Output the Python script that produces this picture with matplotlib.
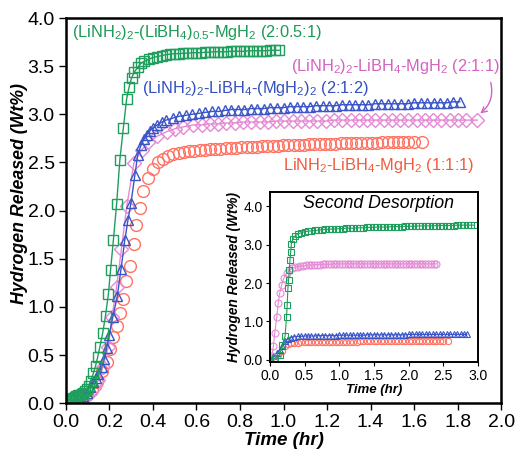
import matplotlib
matplotlib.use("Agg")
import matplotlib.pyplot as plt

plt.rcParams["font.family"] = ["Liberation Sans", "DejaVu Sans"]
plt.rcParams["mathtext.fontset"] = "custom"
plt.rcParams["mathtext.rm"] = "Liberation Sans"
plt.rcParams["mathtext.it"] = "Liberation Sans:italic"
plt.rcParams["mathtext.bf"] = "Liberation Sans:bold"

# ---- first desorption (main panel) ----
t_201 = [0.000, 0.008, 0.016, 0.024, 0.032, 0.040, 0.048, 0.056, 0.064, 0.072,
         0.080, 0.088, 0.096, 0.104, 0.113, 0.126, 0.136, 0.146, 0.156, 0.169,
         0.182, 0.195, 0.205, 0.218, 0.233, 0.248, 0.264, 0.279, 0.290, 0.302,
         0.315, 0.330, 0.345, 0.360, 0.380, 0.400, 0.420, 0.440, 0.460, 0.480,
         0.500, 0.520, 0.540, 0.560, 0.580, 0.600, 0.620, 0.640, 0.660, 0.680,
         0.700, 0.720, 0.740, 0.760, 0.780, 0.800, 0.820, 0.840, 0.860, 0.880,
         0.900, 0.920, 0.940, 0.960, 0.980]
h_201 = [0.00, 0.02, 0.03, 0.04, 0.05, 0.06, 0.07, 0.08, 0.09, 0.10,
         0.11, 0.13, 0.15, 0.18, 0.23, 0.31, 0.385, 0.48, 0.585, 0.73,
         0.91, 1.13, 1.38, 1.69, 2.07, 2.53, 2.86, 3.16, 3.28, 3.38,
         3.44, 3.49, 3.53, 3.55, 3.57, 3.59, 3.60, 3.61, 3.62, 3.625,
         3.63, 3.63, 3.635, 3.635, 3.64, 3.64, 3.64, 3.645, 3.645, 3.65,
         3.65, 3.65, 3.65, 3.655, 3.655, 3.655, 3.655, 3.66, 3.66, 3.66,
         3.66, 3.66, 3.665, 3.665, 3.665]

t_212 = [0.000, 0.020, 0.040, 0.060, 0.080, 0.095, 0.110, 0.125, 0.138, 0.149,
         0.164, 0.176, 0.187, 0.199, 0.215, 0.236, 0.253, 0.271, 0.285, 0.299,
         0.317, 0.330, 0.345, 0.358, 0.372, 0.386, 0.400, 0.420, 0.440, 0.460,
         0.490, 0.520, 0.550, 0.580, 0.610, 0.640, 0.670, 0.700, 0.730, 0.760,
         0.790, 0.820, 0.850, 0.880, 0.910, 0.940, 0.970, 1.000, 1.030, 1.060,
         1.090, 1.120, 1.150, 1.180, 1.210, 1.240, 1.270, 1.300, 1.330, 1.360,
         1.390, 1.420, 1.450, 1.480, 1.510, 1.540, 1.570, 1.600, 1.630, 1.660,
         1.690, 1.720, 1.750, 1.780, 1.810]
h_212 = [0.00, 0.01, 0.02, 0.04, 0.07, 0.11, 0.17, 0.22, 0.26, 0.30,
         0.38, 0.46, 0.57, 0.71, 0.89, 1.11, 1.39, 1.70, 1.90, 2.08,
         2.37, 2.58, 2.68, 2.74, 2.79, 2.83, 2.86, 2.89, 2.92, 2.94,
         2.96, 2.98, 2.99, 3.00, 3.01, 3.02, 3.03, 3.03, 3.04, 3.05,
         3.05, 3.05, 3.06, 3.06, 3.06, 3.07, 3.07, 3.07, 3.08, 3.08,
         3.08, 3.08, 3.09, 3.09, 3.09, 3.09, 3.10, 3.10, 3.10, 3.10,
         3.10, 3.11, 3.11, 3.11, 3.11, 3.11, 3.11, 3.12, 3.12, 3.12,
         3.12, 3.12, 3.12, 3.13, 3.13]

t_211 = [0.000, 0.026, 0.050, 0.072, 0.095, 0.110, 0.130, 0.149, 0.170, 0.195,
         0.212, 0.233, 0.255, 0.280, 0.312, 0.348, 0.378, 0.417, 0.463, 0.501,
         0.540, 0.585, 0.624, 0.662, 0.700, 0.738, 0.776, 0.814, 0.852, 0.890,
         0.928, 0.966, 1.004, 1.042, 1.080, 1.118, 1.156, 1.194, 1.232, 1.270,
         1.308, 1.346, 1.384, 1.422, 1.460, 1.498, 1.536, 1.574, 1.612, 1.650,
         1.688, 1.726, 1.764, 1.802, 1.840, 1.890]
h_211 = [0.00, 0.01, 0.02, 0.04, 0.07, 0.11, 0.16, 0.24, 0.38, 0.585,
         0.90, 1.21, 1.60, 2.05, 2.49, 2.63, 2.71, 2.77, 2.82, 2.85,
         2.87, 2.89, 2.89, 2.90, 2.90, 2.91, 2.91, 2.92, 2.92, 2.92,
         2.92, 2.93, 2.93, 2.93, 2.93, 2.93, 2.93, 2.93, 2.94, 2.94,
         2.94, 2.94, 2.94, 2.94, 2.94, 2.94, 2.94, 2.94, 2.94, 2.94,
         2.94, 2.94, 2.94, 2.94, 2.94, 2.94]

t_111 = [0.000, 0.031, 0.050, 0.072, 0.095, 0.118, 0.141, 0.164, 0.187, 0.202,
         0.218, 0.233, 0.248, 0.262, 0.275, 0.295, 0.311, 0.323, 0.340, 0.356,
         0.378, 0.401, 0.424, 0.447, 0.470, 0.494, 0.518, 0.542, 0.566, 0.590,
         0.614, 0.638, 0.662, 0.686, 0.710, 0.734, 0.758, 0.782, 0.806, 0.830,
         0.854, 0.878, 0.902, 0.926, 0.950, 0.974, 0.998, 1.022, 1.046, 1.070,
         1.094, 1.118, 1.142, 1.166, 1.190, 1.214, 1.238, 1.262, 1.286, 1.310,
         1.334, 1.358, 1.382, 1.406, 1.430, 1.454, 1.478, 1.502, 1.526, 1.550,
         1.574, 1.598, 1.635]
h_111 = [0.00, 0.03, 0.04, 0.05, 0.09, 0.135, 0.22, 0.33, 0.43, 0.56,
         0.69, 0.80, 0.94, 1.08, 1.27, 1.43, 1.65, 1.85, 2.03, 2.20,
         2.34, 2.43, 2.50, 2.54, 2.57, 2.59, 2.60, 2.61, 2.62, 2.62,
         2.63, 2.63, 2.64, 2.64, 2.64, 2.65, 2.65, 2.65, 2.66, 2.66,
         2.66, 2.66, 2.67, 2.67, 2.67, 2.67, 2.68, 2.68, 2.68, 2.68,
         2.68, 2.69, 2.69, 2.69, 2.69, 2.69, 2.69, 2.70, 2.70, 2.70,
         2.70, 2.70, 2.70, 2.70, 2.70, 2.71, 2.71, 2.71, 2.71, 2.71,
         2.71, 2.71, 2.71]

# ---- second desorption (inset) ----
t2_201 = [0.00, 0.07, 0.14, 0.18, 0.22, 0.24, 0.25, 0.26, 0.27, 0.28,
          0.29, 0.30, 0.31, 0.33, 0.36, 0.40, 0.45, 0.50, 0.55, 0.60,
          0.65, 0.70, 0.75, 0.80, 0.85, 0.90, 0.95, 1.00, 1.05, 1.10,
          1.15, 1.20, 1.25, 1.30, 1.35, 1.40, 1.45, 1.50, 1.55, 1.60,
          1.65, 1.70, 1.75, 1.80, 1.85, 1.90, 1.95, 2.00, 2.05, 2.10,
          2.15, 2.20, 2.25, 2.30, 2.35, 2.40, 2.45, 2.50, 2.55, 2.60,
          2.65, 2.70, 2.75, 2.80, 2.85, 2.90, 2.95]
h2_201 = [0.00, 0.04, 0.13, 0.39, 0.62, 1.12, 1.43, 1.86, 2.08, 2.34,
          2.60, 2.81, 3.02, 3.14, 3.22, 3.28, 3.31, 3.34, 3.35, 3.36,
          3.37, 3.38, 3.39, 3.40, 3.40, 3.41, 3.41, 3.42, 3.42, 3.43,
          3.43, 3.43, 3.44, 3.44, 3.44, 3.45, 3.45, 3.45, 3.46, 3.46,
          3.46, 3.46, 3.47, 3.47, 3.47, 3.47, 3.48, 3.48, 3.48, 3.48,
          3.49, 3.49, 3.49, 3.49, 3.49, 3.50, 3.50, 3.50, 3.50, 3.50,
          3.50, 3.51, 3.51, 3.51, 3.51, 3.51, 3.51]

t2_211 = [0.000, 0.025, 0.050, 0.070, 0.100, 0.120, 0.140, 0.170, 0.200, 0.240,
          0.280, 0.320, 0.360, 0.400, 0.440, 0.480, 0.520, 0.560, 0.600, 0.640,
          0.680, 0.720, 0.760, 0.800, 0.840, 0.880, 0.920, 0.960, 1.000, 1.040,
          1.080, 1.120, 1.160, 1.200, 1.240, 1.280, 1.320, 1.360, 1.400, 1.440,
          1.480, 1.520, 1.560, 1.600, 1.640, 1.680, 1.720, 1.760, 1.800, 1.840,
          1.880, 1.920, 1.960, 2.000, 2.040, 2.080, 2.120, 2.160, 2.200, 2.240,
          2.280, 2.320, 2.360, 2.400]
h2_211 = [0.00, 0.09, 0.35, 0.69, 1.12, 1.47, 1.73, 1.95, 2.12, 2.25,
          2.33, 2.38, 2.41, 2.43, 2.44, 2.45, 2.46, 2.47, 2.47, 2.48,
          2.48, 2.48, 2.49, 2.49, 2.49, 2.49, 2.50, 2.50, 2.50, 2.50,
          2.50, 2.50, 2.50, 2.50, 2.50, 2.50, 2.50, 2.50, 2.50, 2.50,
          2.50, 2.50, 2.50, 2.50, 2.50, 2.50, 2.50, 2.50, 2.50, 2.50,
          2.50, 2.50, 2.50, 2.50, 2.50, 2.50, 2.50, 2.50, 2.50, 2.50,
          2.50, 2.50, 2.50, 2.50]

t2_212 = [0.00, 0.05, 0.10, 0.14, 0.18, 0.22, 0.26, 0.30, 0.35, 0.40,
          0.45, 0.50, 0.55, 0.60, 0.65, 0.70, 0.75, 0.80, 0.85, 0.90,
          0.95, 1.00, 1.05, 1.10, 1.15, 1.20, 1.25, 1.30, 1.35, 1.40,
          1.45, 1.50, 1.55, 1.60, 1.65, 1.70, 1.75, 1.80, 1.85, 1.90,
          1.95, 2.00, 2.05, 2.10, 2.15, 2.20, 2.25, 2.30, 2.35, 2.40,
          2.45, 2.50, 2.55, 2.60, 2.65, 2.70, 2.75, 2.80, 2.84]
h2_212 = [0.00, 0.09, 0.18, 0.26, 0.37, 0.48, 0.55, 0.58, 0.60, 0.61,
          0.61, 0.62, 0.62, 0.62, 0.62, 0.63, 0.63, 0.63, 0.63, 0.63,
          0.63, 0.64, 0.64, 0.64, 0.64, 0.64, 0.64, 0.64, 0.64, 0.65,
          0.65, 0.65, 0.65, 0.65, 0.65, 0.65, 0.65, 0.65, 0.65, 0.65,
          0.65, 0.66, 0.66, 0.66, 0.66, 0.66, 0.66, 0.66, 0.66, 0.66,
          0.66, 0.66, 0.66, 0.66, 0.66, 0.66, 0.66, 0.66, 0.66]

t2_111 = [0.00, 0.06, 0.12, 0.17, 0.22, 0.26, 0.30, 0.35, 0.40, 0.45,
          0.50, 0.55, 0.60, 0.65, 0.70, 0.75, 0.80, 0.85, 0.90, 0.95,
          1.00, 1.05, 1.10, 1.15, 1.20, 1.25, 1.30, 1.35, 1.40, 1.45,
          1.50, 1.55, 1.60, 1.65, 1.70, 1.75, 1.80, 1.85, 1.90, 1.95,
          2.00, 2.05, 2.10, 2.15, 2.20, 2.25, 2.30, 2.35, 2.40, 2.45,
          2.50, 2.57]
h2_111 = [0.00, 0.03, 0.13, 0.24, 0.35, 0.41, 0.44, 0.45, 0.45, 0.46,
          0.46, 0.46, 0.46, 0.46, 0.46, 0.47, 0.47, 0.47, 0.47, 0.47,
          0.47, 0.47, 0.47, 0.47, 0.47, 0.47, 0.48, 0.48, 0.48, 0.48,
          0.48, 0.48, 0.48, 0.48, 0.48, 0.48, 0.48, 0.48, 0.48, 0.48,
          0.48, 0.48, 0.48, 0.48, 0.48, 0.48, 0.48, 0.48, 0.48, 0.48,
          0.48, 0.48]

main_xticks = [0.0, 0.2, 0.4, 0.6, 0.8, 1.0, 1.2, 1.4, 1.6, 1.8, 2.0]
main_yticks = [0.0, 0.5, 1.0, 1.5, 2.0, 2.5, 3.0, 3.5, 4.0]
inset_xticks = [0.0, 0.5, 1.0, 1.5, 2.0, 2.5, 3.0]
inset_yticks = [0.0, 1.0, 2.0, 3.0, 4.0]

GREEN = "#1f9e5e"
BLUE = "#3a55c8"
PINK = "#e48ad5"
RED = "#ff7262"

fig = plt.figure(figsize=(5.15, 4.51), dpi=100)
ax = fig.add_axes([0.128, 0.106, 0.845, 0.854])

ax.plot(t_111, h_111, ls="none", marker="o", ms=8.5, mfc="none", mec=RED, mew=1.0)
ax.plot(t_211, h_211, color=PINK, lw=1.0, marker="D", ms=7, mfc="none", mec=PINK, mew=1.0)
ax.plot(t_212, h_212, color=BLUE, lw=1.0, marker="^", ms=7.5, mfc="none", mec=BLUE, mew=1.0)
ax.plot(t_201, h_201, color=GREEN, lw=1.0, marker="s", ms=6.5, mfc="none", mec=GREEN, mew=1.0)

ax.set_xlim(0, 2.0)
ax.set_ylim(0, 4.0)
ax.set_xticks(main_xticks)
ax.set_yticks(main_yticks)
ax.set_xticklabels([f"{v:.1f}" for v in main_xticks])
ax.set_yticklabels([f"{v:.1f}" for v in main_yticks])
ax.tick_params(direction="out", length=5, width=1, labelsize=14, pad=3)
for s in ax.spines.values():
    s.set_linewidth(1.8)
ax.set_xlabel("Time (hr)", fontsize=13.5, fontweight="bold", style="italic")
ax.set_ylabel("Hydrogen Released (Wt%)", fontsize=12.8, fontweight="bold", style="italic")
ax.xaxis.set_label_coords(0.501, -0.075)
ax.yaxis.set_label_coords(-0.087, 0.543)

ax.text(0.028, 3.85, "(LiNH$_2$)$_2$-(LiBH$_4$)$_{0.5}$-MgH$_2$ (2:0.5:1)",
        color="#1c9a56", fontsize=11.8, ha="left", va="center")
ax.text(0.35, 3.27, "(LiNH$_2$)$_2$-LiBH$_4$-(MgH$_2$)$_2$ (2:1:2)",
        color="#3450c0", fontsize=11.8, ha="left", va="center")
ax.text(1.034, 3.50, "(LiNH$_2$)$_2$-LiBH$_4$-MgH$_2$ (2:1:1)",
        color="#d463c0", fontsize=11.8, ha="left", va="center")
ax.text(0.998, 2.47, "LiNH$_2$-LiBH$_4$-MgH$_2$ (1:1:1)",
        color="#f25a3e", fontsize=11.8, ha="left", va="center")
ax.annotate("", xy=(1.894, 2.99), xytext=(1.949, 3.36),
            arrowprops=dict(arrowstyle="->", color="#d463c0", lw=1.0,
                            connectionstyle="arc3,rad=-0.35"))

# ---- inset ----
ins = fig.add_axes([0.524, 0.198, 0.404, 0.376])
ins.plot(t2_111, h2_111, ls="none", marker="o", ms=4.5, mfc="none", mec=RED, mew=0.8)
ins.plot(t2_212, h2_212, color=BLUE, lw=0.8, marker="^", ms=5, mfc="none", mec=BLUE, mew=0.8)
ins.plot(t2_211, h2_211, color=PINK, lw=0.8, marker="o", ms=5, mfc="none", mec=PINK, mew=0.8)
ins.plot(t2_201, h2_201, color=GREEN, lw=0.8, marker="s", ms=5, mfc="none", mec=GREEN, mew=0.8)
ins.set_xlim(0, 3.0)
ins.set_ylim(-0.05, 4.37)
ins.set_xticks(inset_xticks)
ins.set_yticks(inset_yticks)
ins.set_xticklabels([f"{v:.1f}" for v in inset_xticks])
ins.set_yticklabels([f"{v:.1f}" for v in inset_yticks])
ins.tick_params(direction="out", length=3, width=0.8, labelsize=10, pad=2)
for s in ins.spines.values():
    s.set_linewidth(1.4)
ins.set_xlabel("Time (hr)", fontsize=9.5, fontweight="bold", style="italic", labelpad=1)
ins.set_ylabel("Hydrogen Released (Wt%)", fontsize=9.8, fontweight="bold", style="italic", labelpad=2)
ins.text(0.524, 0.935, "Second Desorption", transform=ins.transAxes,
         fontsize=12.8, style="italic", ha="center", va="center")

fig.savefig("out.png", dpi=100)
